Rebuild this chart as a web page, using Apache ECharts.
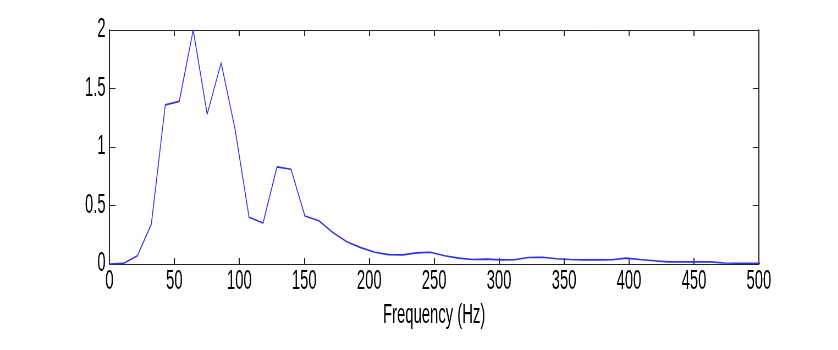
<!DOCTYPE html>
<html>
<head>
<meta charset="utf-8">
<script src="https://cdn.jsdelivr.net/npm/echarts@6/dist/echarts.min.js"></script>
<style>
  html, body { margin: 0; padding: 0; background: #fff; overflow: hidden; }
  /* the original's lettering is tall and narrow, so draw wide and squeeze */
  #chart { width: 1524px; height: 350px; transform: scaleX(0.5499); transform-origin: 0 0; }
</style>
</head>
<body>
<div id="chart"></div>
<script>
const freq = [0, 10.75, 21.5, 32.25, 43, 53.75, 64.5, 75.25, 86, 96.75,
  107.5, 118.25, 129, 139.75, 150.5, 161.25, 172, 182.75, 193.5, 204.25,
  215, 225.75, 236.5, 247.25, 258, 268.75, 279.5, 290.25, 301, 311.75,
  322.5, 333.25, 344, 354.75, 365.5, 376.25, 387, 397.75, 408.5, 419.25,
  430, 440.75, 451.5, 462.25, 473, 483.75, 494.5, 505.25]
const amp = [0, 0.005, 0.07, 0.34, 1.36, 1.39, 2.0, 1.28, 1.72, 1.15,
  0.40, 0.35, 0.83, 0.81, 0.41, 0.37, 0.27, 0.19, 0.14, 0.10,
  0.08, 0.078, 0.095, 0.10, 0.07, 0.05, 0.038, 0.042, 0.035, 0.036,
  0.055, 0.058, 0.045, 0.038, 0.035, 0.035, 0.036, 0.05, 0.038, 0.028,
  0.018, 0.018, 0.018, 0.018, 0.008, 0.007, 0.007, 0.007]
const xTicks = { min: 0, max: 500, interval: 50 }
const yTicks = { min: 0, max: 2, interval: 0.5 }

const chart = echarts.init(document.getElementById('chart'))
const frame = '#222'
const labelFont = { color: '#000', fontFamily: 'Liberation Sans, Arial, sans-serif', fontSize: 27 }

const xAxisBase = (pos, showLabel) => ({
  type: 'value',
  position: pos,
  ...xTicks,
  splitLine: { show: false },
  axisLine: { show: true, onZero: false, lineStyle: { color: frame, width: 1 } },
  axisTick: { show: true, inside: true, length: 6, lineStyle: { color: frame, width: 2 } },
  axisLabel: { show: showLabel, margin: 4, ...labelFont },
})
const yAxisBase = (pos, showLabel) => ({
  type: 'value',
  position: pos,
  ...yTicks,
  splitLine: { show: false },
  axisLine: { show: true, onZero: false, lineStyle: { color: frame, width: 2 } },
  axisTick: { show: true, inside: true, length: 11, lineStyle: { color: frame, width: 1 } },
  axisLabel: { show: showLabel, margin: 7, ...labelFont },
})

const option = {
  animation: false,
  backgroundColor: '#fff',
  grid: { left: 199, right: 144, top: 30, bottom: 86, containLabel: false },
  xAxis: [
    {
      ...xAxisBase('bottom', true),
      name: 'Frequency (Hz)',
      nameLocation: 'middle',
      nameGap: 38,
      nameTextStyle: { ...labelFont },
    },
    xAxisBase('top', false),
  ],
  yAxis: [yAxisBase('left', true), yAxisBase('right', false)],
  series: [
    {
      type: 'line',
      xAxisIndex: 0,
      yAxisIndex: 0,
      symbol: 'none',
      data: freq.map((f, i) => [f, amp[i]]),
      lineStyle: { color: '#3030f0', width: 1.6 },
    },
  ],
}
chart.setOption(option)
</script>
</body>
</html>
